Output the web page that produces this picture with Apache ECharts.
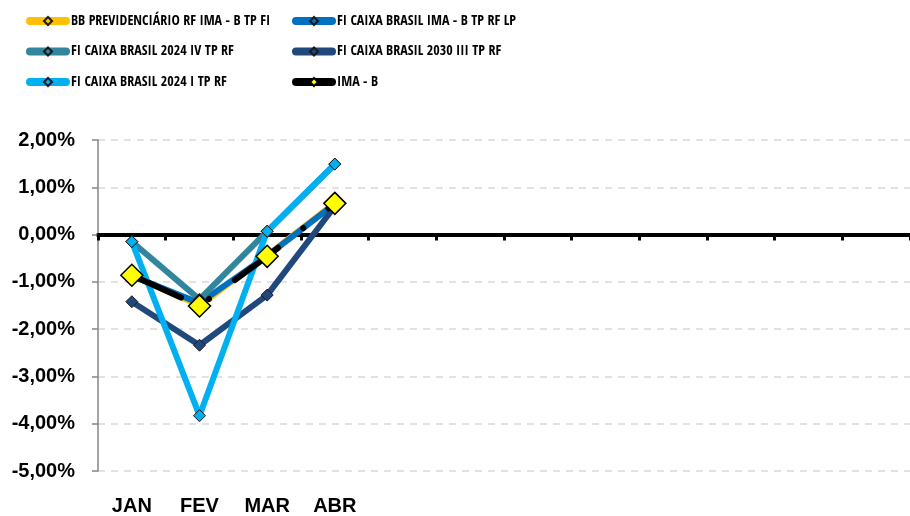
<!DOCTYPE html>
<html>
<head>
<meta charset="utf-8">
<script src="https://cdn.jsdelivr.net/npm/echarts@6/dist/echarts.min.js"></script>
<style>html,body{margin:0;padding:0;background:#fff;}#c{width:910px;height:516px;}</style>
</head>
<body>
<div id="c"></div>
<script>
var categories = ['JAN','FEV','MAR','ABR','','','','','','','',''];
var seriesNames = [
  'BB PREVIDENCIÁRIO RF IMA - B TP FI',
  'FI CAIXA BRASIL IMA - B TP RF LP',
  'FI CAIXA BRASIL 2024 IV TP RF',
  'FI CAIXA BRASIL 2030 III TP RF',
  'FI CAIXA BRASIL 2024 I TP RF',
  'IMA - B'
];
var bbPrev = [-0.86, -1.50, -0.44, 0.67];
var caixaImaB = [-0.87, -1.45, -0.45, 0.65];
var caixa2024IV = [-0.15, -1.37, 0.07, 1.49];
var caixa2030III = [-1.42, -2.34, -1.28, 0.60];
var caixa2024I = [-0.15, -3.83, 0.07, 1.49];
var imaB = [-0.86, -1.51, -0.46, 0.66];
var yTicks = [-5, -4, -3, -2, -1, 0, 1, 2];

var colors = ['#FFC000', '#0070C0', '#31859C', '#1F497D', '#00B0F0', '#000000'];
var FONT = "'Open Sans Condensed', 'Roboto Condensed', 'DejaVu Sans Condensed', sans-serif";
var AXFONT = "'Liberation Sans', Arial, sans-serif";

function mk(i, data) {
  return {
    name: seriesNames[i], type: 'line', data: data,
    symbol: 'diamond', symbolSize: 12,
    lineStyle: { color: colors[i], width: 6, cap: 'round', join: 'round' },
    itemStyle: { color: colors[i], borderColor: '#1a1a1a', borderWidth: 1 },
    emphasis: { disabled: true }, animation: false
  };
}
var series = [
  mk(0, bbPrev), mk(1, caixaImaB), mk(2, caixa2024IV), mk(3, caixa2030III), mk(4, caixa2024I),
  {
    name: seriesNames[5], type: 'line', data: imaB,
    symbol: 'diamond', symbolSize: 22,
    lineStyle: { color: '#000', width: 6, type: [54, 32, 0.1, 32], cap: 'round', join: 'round' },
    itemStyle: { color: '#FFFF00', borderColor: '#000', borderWidth: 1.5 },
    emphasis: { disabled: true }, animation: false
  }
];

function legendCol(left, items) {
  return {
    orient: 'vertical', left: left, top: 11, padding: 0, itemWidth: 36, itemHeight: 10, itemGap: 10.5,
    selectedMode: false,
    textStyle: { fontFamily: FONT, fontWeight: 'bold', fontSize: 14, color: '#000', lineHeight: 20 },
    lineStyle: { width: 8, cap: 'round' },
    data: items
  };
}

var chart = echarts.init(document.getElementById('c'), null, { renderer: 'canvas' });
chart.setOption({
  backgroundColor: '#fff',
  animation: false,
  legend: [
    legendCol(26, [{ name: seriesNames[0] }, { name: seriesNames[2] }, { name: seriesNames[4] }]),
    legendCol(292, [{ name: seriesNames[1] }, { name: seriesNames[3] }, { name: seriesNames[5], lineStyle: { type: 'solid' } }])
  ],
  grid: { left: 98, right: 0, top: 140, bottom: 45, containLabel: false },
  xAxis: [
    {
      type: 'category', data: categories, position: 'bottom', boundaryGap: true,
      axisLine: { show: false, onZero: false }, axisTick: { show: false },
      axisLabel: { show: true, interval: 0, margin: 25, fontFamily: AXFONT, fontWeight: 'bold', fontSize: 20, color: '#000' },
      splitLine: { show: false }
    },
    {
      type: 'category', data: categories, position: 'bottom', boundaryGap: true,
      axisLine: { show: true, onZero: true, lineStyle: { color: '#000', width: 4 } },
      axisTick: { show: true, length: 6, lineStyle: { color: '#000', width: 3 }, interval: 0 },
      axisLabel: { show: false }, splitLine: { show: false }
    }
  ],
  yAxis: {
    type: 'value', min: yTicks[0], max: yTicks[yTicks.length - 1], interval: 1,
    axisLine: { show: true, lineStyle: { color: '#868686', width: 1.5 } },
    axisTick: { show: true, length: 6, lineStyle: { color: '#868686', width: 1.5 } },
    axisLabel: {
      margin: 23, fontFamily: AXFONT, fontWeight: 'bold', fontSize: 20, color: '#000',
      formatter: function (v) { return v.toFixed(2).replace('.', ',') + '%'; }
    },
    splitLine: { show: true, lineStyle: { color: '#D9D9D9', width: 1.5, type: [7, 6] } }
  },
  series: series
});
</script>
</body>
</html>
